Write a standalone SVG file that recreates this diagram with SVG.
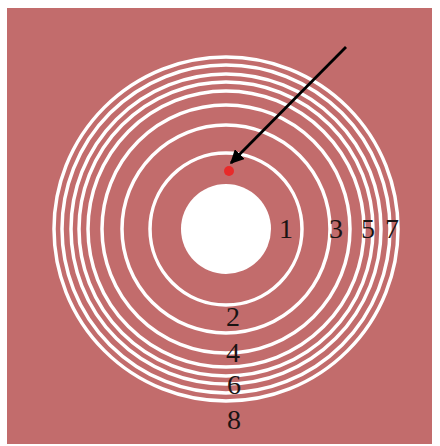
<svg xmlns="http://www.w3.org/2000/svg" width="440" height="446" viewBox="0 0 440 446">
<style>
.ring{fill:none;stroke:#ffffff;stroke-width:3.5}
.lbl{font-family:"Liberation Serif","Times New Roman",serif;font-size:28px;fill:#1a1414;text-anchor:middle}
</style>
<defs>
<marker id="ah" viewBox="0 0 10 10" refX="9" refY="5" markerWidth="5" markerHeight="5" orient="auto" markerUnits="strokeWidth">
<path d="M0,0 L10,5 L0,10 z" fill="#000"/>
</marker>
</defs>
<rect x="0" y="0" width="440" height="446" fill="#ffffff"/>
<rect x="7" y="8" width="425" height="436" fill="#c26c6c"/>
<g id="rings">
<circle class="ring" cx="226" cy="229" r="76"/>
<circle class="ring" cx="226" cy="229" r="104"/>
<circle class="ring" cx="226" cy="229" r="124"/>
<circle class="ring" cx="226" cy="229" r="138"/>
<circle class="ring" cx="226" cy="229" r="147"/>
<circle class="ring" cx="226" cy="229" r="155"/>
<circle class="ring" cx="226" cy="229" r="164"/>
<circle class="ring" cx="226" cy="229" r="172"/>
</g>
<g id="hole"><circle cx="226" cy="229" r="45" fill="#ffffff"/></g>
<g id="dot"><circle cx="229" cy="171" r="5" fill="#e82a2a"/></g>
<g id="connectors">
<line x1="346" y1="47" x2="231" y2="163" stroke="#000" stroke-width="2.8" marker-end="url(#ah)"/>
</g>
<g id="labels">
<text class="lbl" x="286" y="238">1</text>
<text class="lbl" x="336" y="238">3</text>
<text class="lbl" x="368" y="238">5</text>
<text class="lbl" x="392" y="238">7</text>
<text class="lbl" x="233" y="326">2</text>
<text class="lbl" x="233" y="362">4</text>
<text class="lbl" x="234" y="394">6</text>
<text class="lbl" x="234" y="429">8</text>
</g>
</svg>
